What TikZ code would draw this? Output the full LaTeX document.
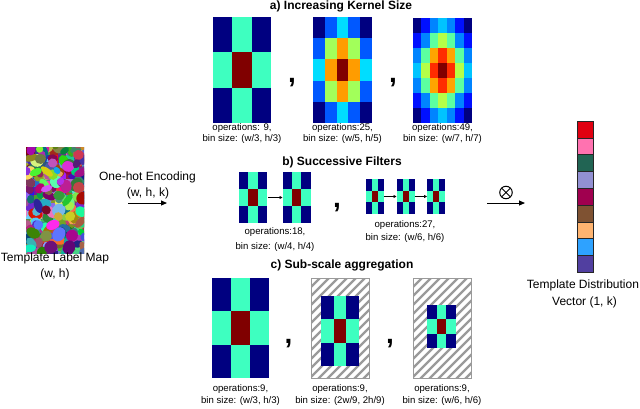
\documentclass[tikz,border=0pt]{standalone}
\usepackage{fontspec}
\setmainfont{Liberation Sans}
\usetikzlibrary{arrows.meta}
\definecolor{jn}{HTML}{000080}
\definecolor{aq}{HTML}{3EFFC0}
\definecolor{mr}{HTML}{800000}
\definecolor{bf}{HTML}{0058FF}
\definecolor{cf}{HTML}{00DDFF}
\definecolor{gf}{HTML}{A2FF5A}
\definecolor{of}{HTML}{FF9C00}
\definecolor{bs}{HTML}{0010FF}
\definecolor{as}{HTML}{0084FF}
\definecolor{ss}{HTML}{00C4FF}
\definecolor{qs}{HTML}{5CFFA0}
\definecolor{gs}{HTML}{B4FF48}
\definecolor{os}{HTML}{FFA400}
\definecolor{rs}{HTML}{FF2C00}
\definecolor{vr}{HTML}{E00010}
\definecolor{vp}{HTML}{FF72B0}
\definecolor{vt}{HTML}{216453}
\definecolor{vl}{HTML}{9290D2}
\definecolor{vm}{HTML}{A0004F}
\definecolor{vb}{HTML}{7F5232}
\definecolor{vo}{HTML}{FFB470}
\definecolor{vs}{HTML}{2EA2FF}
\definecolor{vi}{HTML}{513FA0}
\definecolor{hatchgray}{HTML}{9A9A9A}
\newcommand\kgrid[7]{%
  \node[minimum width=#4pt,minimum height=#5pt,inner sep=0pt,outer sep=0pt] (#1) at (#2,#3) {};
  \foreach \crow [count=\ri from 0] in {#7}{%
    \foreach \cc [count=\ci from 0] in \crow {%
      \fill[\cc] (#2-#4/2+\ci*#4/#6,#3-#5/2+\ri*#5/#6) rectangle ++(#4/#6+0.25,#5/#6+0.25);
    }}}
\newcommand\hatchbox[5]{% name cx cy w h
  \node[draw=hatchgray,line width=0.6pt,minimum width=#4pt,minimum height=#5pt,inner sep=0pt,outer sep=0pt] (#1) at (#2,#3) {};
  \begin{scope}
    \clip (#2-#4/2,#3-#5/2) rectangle (#2+#4/2,#3+#5/2);
    \foreach \k in {-120,-111,...,80}{
      \draw[hatchgray,line width=2.2pt] (#2-#4/2+\k,#3+#5/2+2) -- ++(130,-130);
    }
  \end{scope}}
\tikzset{
  title/.style={font=\fontsize{12}{14}\selectfont\bfseries,inner sep=0pt},
  lbl/.style={font=\fontsize{9.6}{11}\selectfont,inner sep=0pt},
  big/.style={font=\fontsize{12}{14}\selectfont,inner sep=0pt},
  comma/.style={font=\fontsize{28}{28}\selectfont\bfseries,inner sep=0pt},
  arr/.style={line width=1pt,-{Triangle[length=6pt,width=5pt]}},
  sarr/.style={line width=0.6pt,-{Triangle[length=3pt,width=3pt]}},
  vcell/.style={draw=black!85,line width=0.6pt,minimum width=16pt,minimum height=16.8pt,inner sep=0pt,outer sep=0pt},
  otimesnode/.style={circle,draw,line width=1pt,minimum size=12.5pt,inner sep=0pt,
    path picture={\draw[line width=1pt] (path picture bounding box.north west) -- (path picture bounding box.south east)
      (path picture bounding box.north east) -- (path picture bounding box.south west);}}
}
\begin{document}
\begin{tikzpicture}[x=1pt,y=-1pt]
\useasboundingbox (0,0) rectangle (640,408);
\fill[white] (0,0) rectangle (640,408);

% ---------- template label map ----------
\node[minimum width=58pt,minimum height=106pt,inner sep=0pt] (map) at (55,200) {};
\begin{scope}
  \clip (26,147) rectangle (84,253);
  \pgfmathsetseed{11}
  \foreach \gx in {0,...,7}{
    \foreach \gy in {0,...,13}{
      \pgfmathsetmacro\hh{rnd}
      \pgfmathsetmacro\ss{0.45+0.55*rnd}
      \pgfmathsetmacro\vv{0.5+0.5*rnd}
      \definecolor{blob}{hsb}{\hh,\ss,\vv}
      \fill[blob] (26+\gx*8,147+\gy*8) rectangle ++(8.3,8.3);
    }}
  \foreach \i in {1,...,230}{
    \pgfmathsetmacro\px{24+62*rnd}
    \pgfmathsetmacro\py{145+110*rnd}
    \pgfmathsetmacro\hh{rnd}
    \pgfmathsetmacro\ss{0.45+0.55*rnd}
    \pgfmathsetmacro\vv{0.45+0.55*rnd}
    \pgfmathsetmacro\rx{3.5+4*rnd}
    \pgfmathsetmacro\ry{3+3.5*rnd}
    \pgfmathsetmacro\rot{180*rnd}
    \definecolor{blob}{hsb}{\hh,\ss,\vv}
    \fill[blob,rotate around={\rot:(\px,\py)}] (\px,\py) ellipse ({\rx pt} and {\ry pt});
  }
\end{scope}
\node[big] (maplbl1) at (55,258) {Template Label Map};
\node[big] (maplbl2) at (55,274) {(w, h)};

\node[big] (ohe1) at (147.5,177) {One-hot Encoding};
\node[big] (ohe2) at (148,193) {(w, h, k)};
\coordinate (oa) at (128,203);
\coordinate (ob) at (167,203);
\draw[arr] (oa) -- (ob);

% ---------- a) ----------
\node[title] (ta) at (341,6) {a) Increasing Kernel Size};
\kgrid{a1}{242}{70}{58}{106}{3}{{jn,aq,jn},{aq,mr,aq},{jn,aq,jn}}
\kgrid{a2}{342.5}{70}{59}{106}{5}{{jn,bf,cf,bf,jn},{bf,gf,of,gf,bf},{cf,of,mr,of,cf},{bf,gf,of,gf,bf},{jn,bf,cf,bf,jn}}
\kgrid{a3}{442.5}{70.5}{59}{105}{7}{{jn,bs,as,ss,as,bs,jn},{bs,as,qs,gs,qs,as,bs},{as,qs,os,rs,os,qs,as},{ss,gs,rs,mr,rs,gs,ss},{as,qs,os,rs,os,qs,as},{bs,as,qs,gs,qs,as,bs},{jn,bs,as,ss,as,bs,jn}}
\node[comma] (ca1) at (292,82.5) {,};
\node[comma] (ca2) at (393,82.5) {,};
\node[lbl] (la1a) at (242,128) {operations: 9,};
\node[lbl] (la1b) at (242,139.5) {bin size: (w/3, h/3)};
\node[lbl] (la2a) at (342.5,128) {operations:25,};
\node[lbl] (la2b) at (342.5,139.5) {bin size: (w/5, h/5)};
\node[lbl] (la3a) at (442.5,128) {operations:49,};
\node[lbl] (la3b) at (442.5,139.5) {bin size: (w/7, h/7)};

% ---------- b) ----------
\node[title] (tb) at (342,162) {b) Successive Filters};
\kgrid{b1}{253}{197.5}{28}{51}{3}{{jn,aq,jn},{aq,mr,aq},{jn,aq,jn}}
\kgrid{b2}{296.5}{197.5}{28}{51}{3}{{jn,aq,jn},{aq,mr,aq},{jn,aq,jn}}
\draw[sarr] (b1.east) ++(1,0) coordinate (b1e) (b1e) -- (b2.west);
\kgrid{b3}{375}{196.5}{18}{35}{3}{{jn,aq,jn},{aq,mr,aq},{jn,aq,jn}}
\kgrid{b4}{405.5}{196.5}{18}{35}{3}{{jn,aq,jn},{aq,mr,aq},{jn,aq,jn}}
\kgrid{b5}{436}{196.5}{18}{35}{3}{{jn,aq,jn},{aq,mr,aq},{jn,aq,jn}}
\draw[sarr] (b3.east) -- (b4.west);
\draw[sarr] (b4.east) -- (b5.west);
\node[comma] (cb) at (337,207.5) {,};
\node[lbl] (lb1a) at (275,232) {operations:18,};
\node[lbl] (lb1b) at (275,247) {bin size: (w/4, h/4)};
\node[lbl] (lb2a) at (405,225) {operations:27,};
\node[lbl] (lb2b) at (405,238.5) {bin size: (w/6, h/6)};

% ---------- c) ----------
\node[title] (tc) at (342,265) {c) Sub-scale aggregation};
\kgrid{c1}{240.5}{328}{57}{100}{3}{{jn,aq,jn},{aq,mr,aq},{jn,aq,jn}}
\hatchbox{c2}{340}{328}{58}{100}
\kgrid{c2g}{340}{331}{38}{70}{3}{{jn,aq,jn},{aq,mr,aq},{jn,aq,jn}}
\hatchbox{c3}{442}{328}{58}{100}
\kgrid{c3g}{441.5}{326.5}{29}{43}{3}{{jn,aq,jn},{aq,mr,aq},{jn,aq,jn}}
\node[comma] (cc1) at (288.5,343.5) {,};
\node[comma] (cc2) at (390,343.5) {,};
\node[lbl] (lc1a) at (240.5,389.5) {operations:9,};
\node[lbl] (lc1b) at (240.5,401.5) {bin size: (w/3, h/3)};
\node[lbl] (lc2a) at (340,389.5) {operations:9,};
\node[lbl] (lc2b) at (340,401.5) {bin size: (2w/9, 2h/9)};
\node[lbl] (lc3a) at (442,389.5) {operations:9,};
\node[lbl] (lc3b) at (442,401.5) {bin size: (w/6, h/6)};

% ---------- output ----------
\node[otimesnode] (otimes) at (506,192.5) {};
\coordinate (pa) at (487,203);
\coordinate (pb) at (525,203);
\draw[arr] (pa) -- (pb);
\foreach \c [count=\i from 0] in {vr,vp,vt,vl,vm,vb,vo,vs,vi}{
  \node[vcell,fill=\c] (v\i) at (585,{129.4+\i*16.8}) {};
}
\node[big] (vl1) at (583,285.5) {Template Distribution};
\node[big] (vl2) at (584.5,302.5) {Vector (1, k)};
\end{tikzpicture}
\end{document}
